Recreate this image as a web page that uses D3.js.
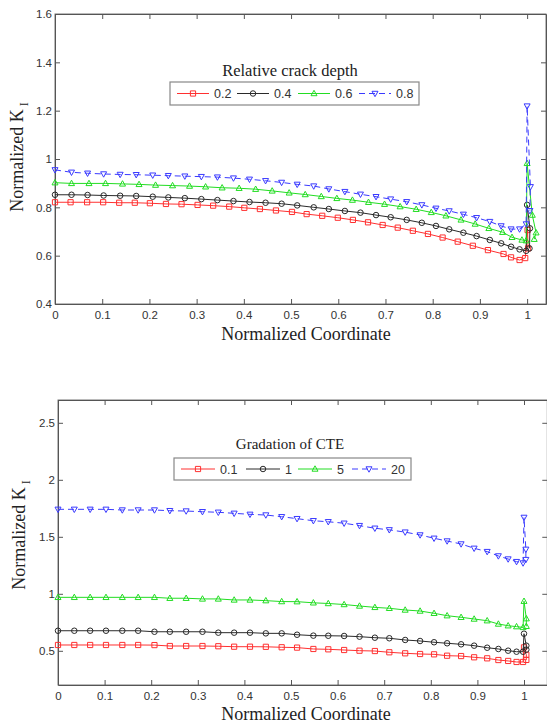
<!DOCTYPE html>
<html>
<head>
<meta charset="utf-8">
<script src="https://cdn.jsdelivr.net/npm/d3@7"></script>
<style>
  body { margin: 0; background: #fff; }
  svg { display: block; }
</style>
</head>
<body>
<svg id="fig" width="547" height="726"></svg>
<script>
// ---------- data ----------
// normalized coordinate along the crack front (sampling differs per mesh)
const coordGrid = [0, 0.035, 0.069, 0.103, 0.138, 0.172, 0.207, 0.240, 0.275, 0.310, 0.344, 0.378, 0.412, 0.446, 0.480, 0.513, 0.548, 0.580, 0.614, 0.647, 0.680, 0.711, 0.745, 0.777, 0.807, 0.835, 0.865, 0.893, 0.921, 0.945, 0.966, 0.984, 0.998];
const coordRed = [0, 0.033, 0.068, 0.102, 0.136, 0.169, 0.201, 0.235, 0.268, 0.302, 0.335, 0.369, 0.401, 0.434, 0.468, 0.502, 0.533, 0.566, 0.599, 0.631, 0.663, 0.694, 0.726, 0.758, 0.790, 0.821, 0.853, 0.885, 0.917, 0.950, 0.966, 0.984, 0.996];
const coordGreen = [0, 0.035, 0.072, 0.107, 0.143, 0.178, 0.213, 0.249, 0.285, 0.319, 0.354, 0.390, 0.425, 0.460, 0.496, 0.530, 0.564, 0.597, 0.630, 0.664, 0.698, 0.731, 0.765, 0.797, 0.828, 0.860, 0.890, 0.919, 0.948, 0.968, 0.989, 0.998];

// relative crack depth panel
const depthLabels = ["0.2", "0.4", "0.6", "0.8"];
const kDepth02 = [0.821, 0.821, 0.821, 0.821, 0.819, 0.819, 0.817, 0.814, 0.813, 0.810, 0.807, 0.803, 0.798, 0.793, 0.787, 0.781, 0.772, 0.765, 0.757, 0.748, 0.738, 0.727, 0.716, 0.703, 0.690, 0.675, 0.658, 0.641, 0.623, 0.607, 0.593, 0.582, 0.590];
const tipDepth02X = [1.001, 1.002];
const tipDepth02Y = [0.706, 0.630];
const kDepth04 = [0.852, 0.852, 0.851, 0.849, 0.848, 0.847, 0.844, 0.841, 0.838, 0.834, 0.830, 0.826, 0.822, 0.819, 0.815, 0.808, 0.800, 0.793, 0.785, 0.778, 0.768, 0.759, 0.748, 0.736, 0.723, 0.709, 0.695, 0.681, 0.665, 0.651, 0.637, 0.626, 0.620];
const tipDepth04X = [1.0, 1.006, 1.005];
const tipDepth04Y = [0.810, 0.713, 0.630];
const kDepth06 = [0.902, 0.899, 0.899, 0.899, 0.897, 0.895, 0.892, 0.890, 0.888, 0.885, 0.881, 0.879, 0.875, 0.868, 0.860, 0.853, 0.845, 0.837, 0.830, 0.821, 0.813, 0.803, 0.792, 0.779, 0.765, 0.748, 0.731, 0.713, 0.697, 0.676, 0.665, 0.662];
const tipDepth06X = [1.0, 1.011, 1.019, 1.015];
const tipDepth06Y = [0.982, 0.768, 0.695, 0.668];
const kDepth08 = [0.955, 0.945, 0.941, 0.938, 0.936, 0.935, 0.933, 0.931, 0.929, 0.927, 0.925, 0.921, 0.916, 0.910, 0.903, 0.895, 0.888, 0.876, 0.865, 0.854, 0.844, 0.834, 0.823, 0.810, 0.796, 0.785, 0.771, 0.757, 0.741, 0.723, 0.710, 0.710, 0.731];
const tipDepth08X = [1.0, 1.007, 1.006];
const tipDepth08Y = [1.219, 0.885, 0.786];

// CTE gradation panel
const cteLabels = ["0.1", "1", "5", "20"];
const kCte01 = [0.551, 0.551, 0.551, 0.551, 0.551, 0.551, 0.550, 0.542, 0.542, 0.542, 0.540, 0.536, 0.536, 0.535, 0.531, 0.528, 0.516, 0.513, 0.507, 0.501, 0.498, 0.487, 0.478, 0.472, 0.469, 0.457, 0.454, 0.443, 0.434, 0.419, 0.411, 0.402, 0.402];
const tipCte01X = [1.0, 1.005, 1.005];
const tipCte01Y = [0.530, 0.465, 0.420];
const kCte1 = [0.676, 0.676, 0.676, 0.676, 0.676, 0.676, 0.667, 0.667, 0.667, 0.667, 0.659, 0.659, 0.659, 0.653, 0.653, 0.641, 0.633, 0.632, 0.630, 0.624, 0.615, 0.610, 0.595, 0.586, 0.575, 0.566, 0.557, 0.545, 0.527, 0.516, 0.501, 0.492, 0.492];
const tipCte1X = [1.0, 1.005, 1.005];
const tipCte1Y = [0.650, 0.545, 0.510];
const kCte5 = [0.969, 0.969, 0.969, 0.969, 0.969, 0.969, 0.969, 0.961, 0.961, 0.955, 0.955, 0.946, 0.946, 0.940, 0.932, 0.931, 0.921, 0.915, 0.906, 0.893, 0.881, 0.873, 0.858, 0.849, 0.829, 0.808, 0.794, 0.779, 0.764, 0.735, 0.720, 0.712, 0.705];
const tipCte5X = [1.0, 1.005, 1.005];
const tipCte5Y = [0.935, 0.782, 0.715];
const kCte20 = [1.741, 1.741, 1.741, 1.741, 1.735, 1.735, 1.735, 1.729, 1.726, 1.720, 1.715, 1.706, 1.697, 1.691, 1.676, 1.659, 1.641, 1.632, 1.619, 1.598, 1.575, 1.561, 1.541, 1.516, 1.487, 1.463, 1.437, 1.399, 1.370, 1.332, 1.305, 1.282, 1.270];
const tipCte20X = [1.0, 1.004, 1.004];
const tipCte20Y = [1.670, 1.390, 1.300];

// axis ticks
const xTicks = [0, 0.1, 0.2, 0.3, 0.4, 0.5, 0.6, 0.7, 0.8, 0.9, 1];
const yTicksDepth = [0.4, 0.6, 0.8, 1, 1.2, 1.4, 1.6];
const yTicksCte = [0.5, 1, 1.5, 2, 2.5];

// ---------- drawing ----------
const svg = d3.select("#fig");
const SANS = "'Liberation Sans', Arial, sans-serif";
const SERIF = "'Liberation Serif', 'Times New Roman', serif";

const styles = [
  { color: "#ff3030", marker: "square", dash: null },
  { color: "#2a2a2a", marker: "circle", dash: null },
  { color: "#22dd22", marker: "triUp", dash: null },
  { color: "#3a3aff", marker: "triDown", dash: "6,4" }
];

function markerPath(kind) {
  switch (kind) {
    case "square": return "M-2.6,-2.6H2.6V2.6H-2.6Z";
    case "circle": return d3.symbol(d3.symbolCircle, 24)();
    case "triUp": return "M0,-3.2L3,2.2L-3,2.2Z";
    case "triDown": return "M0,3.2L3,-2.2L-3,-2.2Z";
  }
}

function zip(xs, ys) { return xs.map((v, i) => [v, ys[i]]); }

function panel(o) {
  const g = svg.append("g");
  const x = d3.scaleLinear().domain(o.xDomain).range([o.left, o.right]);
  const y = d3.scaleLinear().domain(o.yDomain).range([o.bottom, o.top]);

  // frame
  g.append("rect")
    .attr("x", o.left).attr("y", o.top)
    .attr("width", o.right - o.left).attr("height", o.bottom - o.top)
    .attr("fill", "none").attr("stroke", "#777").attr("stroke-width", 1);

  const fmt = d => String(d);
  const styleAxis = sel => {
    sel.selectAll("path.domain").attr("stroke", "#555");
    sel.selectAll(".tick line").attr("stroke", "#555");
    sel.selectAll("text").attr("font-family", SANS).attr("font-size", "11.5px").attr("fill", "#333");
  };

  g.append("g").attr("transform", `translate(0,${o.bottom})`)
    .call(d3.axisBottom(x).tickValues(xTicks).tickFormat(fmt).tickSizeInner(-5).tickSizeOuter(0).tickPadding(7))
    .call(styleAxis);
  g.append("g").attr("transform", `translate(0,${o.top})`)
    .call(d3.axisTop(x).tickValues(xTicks).tickFormat("").tickSizeInner(-5).tickSizeOuter(0))
    .call(styleAxis);
  g.append("g").attr("transform", `translate(${o.left},0)`)
    .call(d3.axisLeft(y).tickValues(o.yTicks).tickFormat(fmt).tickSizeInner(-5).tickSizeOuter(0).tickPadding(3))
    .call(styleAxis);
  g.append("g").attr("transform", `translate(${o.right},0)`)
    .call(d3.axisRight(y).tickValues(o.yTicks).tickFormat("").tickSizeInner(-5).tickSizeOuter(0))
    .call(styleAxis);

  // axis titles
  g.append("text")
    .attr("x", o.xTitlePos[0]).attr("y", o.xTitlePos[1])
    .attr("text-anchor", "middle").attr("font-family", SERIF).attr("font-size", "18px").attr("fill", "#222")
    .text("Normalized Coordinate");
  const yt = g.append("text")
    .attr("transform", `translate(${o.yTitlePos[0]},${o.yTitlePos[1]}) rotate(-90)`)
    .attr("text-anchor", "middle").attr("font-family", SERIF).attr("font-size", "18px").attr("fill", "#222");
  yt.append("tspan").text("Normalized K");
  yt.append("tspan").attr("dx", 3).attr("dy", 5).attr("font-size", "12px").text("I");

  // series
  const line = d3.line().x(d => x(d[0])).y(d => y(d[1]));
  o.series.forEach((s, i) => {
    const st = styles[i];
    const pts = zip(s.x.concat(s.tipX), s.y.concat(s.tipY));
    g.append("path").datum(pts)
      .attr("d", line).attr("fill", "none")
      .attr("stroke", st.color).attr("stroke-width", 1)
      .attr("stroke-dasharray", st.dash);
    g.append("g").selectAll("path").data(pts).join("path")
      .attr("transform", d => `translate(${x(d[0])},${y(d[1])})`)
      .attr("d", markerPath(st.marker))
      .attr("fill", "none").attr("stroke", st.color).attr("stroke-width", 1);
  });

  // legend
  const L = o.legend;
  g.append("text")
    .attr("x", L.titlePos[0]).attr("y", L.titlePos[1])
    .attr("text-anchor", "middle").attr("font-family", SERIF)
    .attr("font-size", L.titleSize).attr("fill", "#222")
    .text(L.title);
  g.append("rect")
    .attr("x", L.box[0]).attr("y", L.box[1]).attr("width", L.box[2]).attr("height", L.box[3])
    .attr("fill", "#fff").attr("stroke", "#888").attr("stroke-width", 1.2);
  const cy = L.box[1] + L.box[3] / 2;
  L.labels.forEach((lab, i) => {
    const st = styles[i];
    const x0 = L.entryX[i];
    const eg = g.append("g");
    eg.append("line")
      .attr("x1", x0).attr("x2", x0 + L.lineLen).attr("y1", cy).attr("y2", cy)
      .attr("stroke", st.color).attr("stroke-width", 1).attr("stroke-dasharray", st.dash);
    eg.append("path")
      .attr("transform", `translate(${x0 + L.lineLen / 2},${cy})`)
      .attr("d", markerPath(st.marker))
      .attr("fill", "none").attr("stroke", st.color);
    eg.append("text")
      .attr("x", x0 + L.lineLen + 5).attr("y", cy + 4.5)
      .attr("font-family", SANS).attr("font-size", "12.5px").attr("fill", "#333")
      .text(lab);
  });
}

panel({
  left: 55, right: 546, top: 14, bottom: 304,
  xDomain: [0, 1.04], yDomain: [0.4, 1.6], yTicks: yTicksDepth,
  xTitlePos: [306, 340], yTitlePos: [23, 157],
  series: [
    { x: coordRed, y: kDepth02, tipX: tipDepth02X, tipY: tipDepth02Y },
    { x: coordGrid, y: kDepth04, tipX: tipDepth04X, tipY: tipDepth04Y },
    { x: coordGreen, y: kDepth06, tipX: tipDepth06X, tipY: tipDepth06Y },
    { x: coordGrid, y: kDepth08, tipX: tipDepth08X, tipY: tipDepth08Y }
  ],
  legend: {
    title: "Relative crack depth", titleSize: "16.5px", titlePos: [290, 76],
    box: [170, 82, 249, 23], labels: depthLabels,
    entryX: [177, 237, 298, 359], lineLen: 32
  }
});

panel({
  left: 58, right: 547.3, top: 400, bottom: 685,
  xDomain: [0, 1.05], yDomain: [0.2, 2.7], yTicks: yTicksCte,
  xTitlePos: [306, 720], yTitlePos: [25, 535],
  series: [
    { x: coordGrid, y: kCte01, tipX: tipCte01X, tipY: tipCte01Y },
    { x: coordGrid, y: kCte1, tipX: tipCte1X, tipY: tipCte1Y },
    { x: coordGrid, y: kCte5, tipX: tipCte5X, tipY: tipCte5Y },
    { x: coordGrid, y: kCte20, tipX: tipCte20X, tipY: tipCte20Y }
  ],
  legend: {
    title: "Gradation of CTE", titleSize: "15px", titlePos: [290, 449],
    box: [174, 458, 237, 22], labels: cteLabels,
    entryX: [181, 246, 298, 352], lineLen: 34
  }
});
</script>
</body>
</html>
